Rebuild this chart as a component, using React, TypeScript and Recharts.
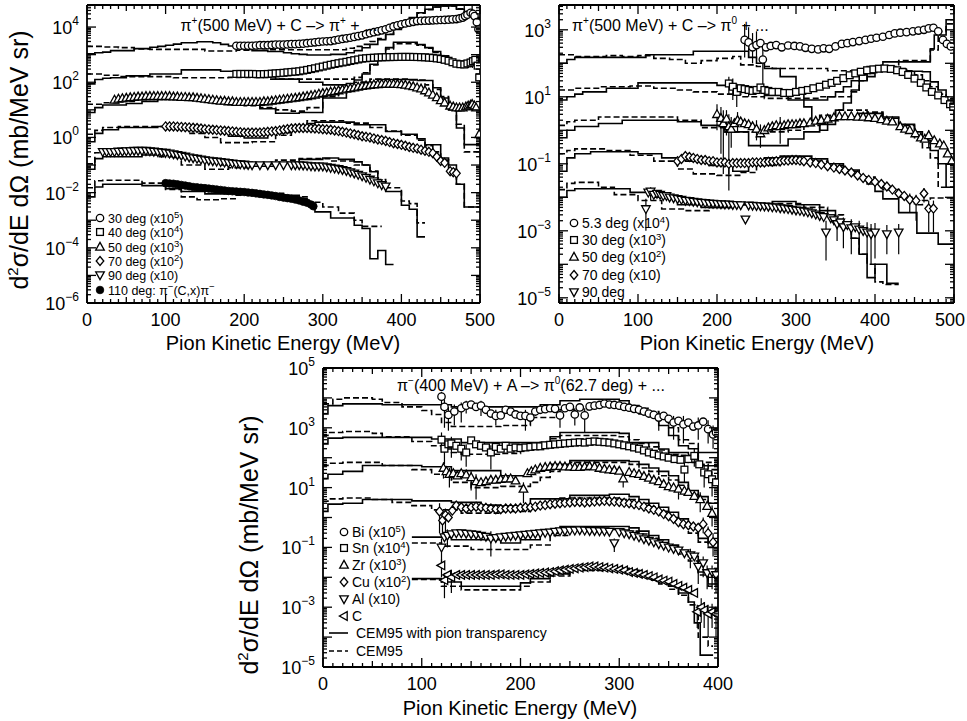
import React from 'react';
import { ComposedChart, Line, Scatter, XAxis, YAxis, ErrorBar } from 'recharts';

const FONT = '"Liberation Sans", Arial, Helvetica, sans-serif';

// ---------------- axes ----------------
const P12_X_MAJOR = [0, 100, 200, 300, 400, 500];
const P3_X_MAJOR = [0, 100, 200, 300, 400];
const P1_Y_EXP_LABELS = [4, 2, 0, -2, -4, -6];
const P2_Y_EXP_LABELS = [3, 1, -1, -3, -5];
const P3_Y_EXP_LABELS = [5, 3, 1, -1, -3, -5];
const P1_Y_DOMAIN = [1e-6, 6.3e4];
const P2_Y_DOMAIN = [7e-6, 5.5e3];
const P3_Y_DOMAIN = [1e-5, 1e5];

// ---------------- panel 1 : pi+(500 MeV) + C -> pi+ ----------------
const p1_30_sol = [[0,1070],[10,1170],[20,1230],[30,1400],[60,1650],[80,1850],[90,2000],[100,2200],[110,2400],[120,2700],[140,2950],[160,2700],[170,2350],[180,2050],[190,1770],[200,1540],[210,1400],[230,1300],[250,1170],[260,1080],[270,1020],[280,970],[310,1020],[330,1170],[340,1400],[350,1770],[360,2350],[370,3500],[380,5400],[390,8200],[400,14000],[410,22000],[420,33000],[430,44000],[440,53000],[450,58000],[470,44000],[480,29000],[490,22000],[500,22000]];
const p1_30_dash = [[0,2000],[20,1900],[40,1800],[60,1600],[80,1550],[150,1350],[190,1450],[230,1500],[330,1700],[340,2000],[350,2350],[360,3000],[370,3800],[380,5500],[390,8500],[400,13000],[410,20000],[420,32000],[430,43000],[440,53000],[450,58000],[470,46000],[480,30000],[490,20000],[500,20000]];
const p1_30_pts = [[190,2100],[195,2100],[200,2100],[205,2100],[210,2100],[215,2150],[220,2200],[225,2200],[230,2200],[235,2250],[240,2300],[245,2300],[250,2300],[255,2350],[260,2400],[265,2400],[270,2450],[275,2500],[280,2600],[285,2700],[290,2800],[295,2900],[300,3000],[305,3050],[310,3100],[315,3300],[320,3500],[325,3700],[330,3900],[335,4100],[340,4400],[345,4700],[350,5000],[355,5500],[360,6000],[365,6500],[370,7000],[375,7600],[380,8300],[385,9400],[390,10500],[395,11500],[400,12600],[405,13500],[410,14500],[415,15500],[420,16500],[425,16800],[430,17000],[435,17200],[440,17500],[445,17800],[450,18000],[455,18200],[460,18500],[465,19000],[470,19500],[474,20500],[478,22000],[481,25000],[484,28000],[488,33000],[491,30000],[493,25000],[496,15000],[498,8300]];

const p1_40_sol = [[0,87],[10,125],[20,140],[30,145],[50,170],[80,200],[120,280],[170,250],[200,180],[240,130],[270,100],[300,80],[330,90],[340,120],[350,200],[360,450],[370,1000],[380,1800],[390,2800],[420,2300],[430,1800],[440,1300],[450,900],[460,600],[470,420],[480,380],[490,700],[500,700]];
const p1_40_dash = [[0,200],[20,180],[40,160],[110,145],[180,150],[230,130],[340,150],[350,220],[360,420],[370,900],[380,1600],[390,2500],[420,2200],[430,1700],[440,1200],[450,850],[460,550],[470,400],[480,350],[490,600],[500,600]];
const p1_40_pts = [[190,200],[195,200],[200,200],[205,200],[210,200],[215,198],[220,195],[225,198],[230,200],[235,205],[240,210],[245,215],[250,220],[255,228],[260,235],[265,242],[270,250],[275,265],[280,280],[285,300],[290,320],[295,345],[300,370],[305,400],[310,430],[315,460],[320,490],[325,520],[330,550],[335,590],[340,630],[345,670],[350,720],[355,740],[360,760],[365,775],[370,790],[375,800],[380,810],[385,815],[390,820],[395,825],[400,830],[405,830],[410,830],[415,825],[420,820],[425,810],[430,800],[435,780],[440,760],[445,730],[450,700],[455,650],[460,600],[465,530],[470,470],[475,450],[480,440],[484,480],[488,520],[491,580],[494,650],[497,400],[499,150]];

const p1_50_sol = [[0,8],[10,12],[20,15],[50,17],[70,20],[90,25],[130,27],[160,24],[180,20],[200,15],[220,11],[240,7.5],[270,8],[300,27],[330,63],[350,100],[370,125],[420,115],[440,63],[450,27],[460,10],[470,2.2],[480,0.55],[500,0.55]];
const p1_50_dash = [[0,16],[20,18],[40,20],[60,25],[80,27],[100,30],[120,27],[140,25],[160,20],[180,16],[200,14],[220,12],[240,10],[260,9],[280,12],[300,30],[320,60],[340,100],[360,130],[410,120],[430,80],[440,55],[450,30],[460,12],[470,3],[480,0.3],[500,0.3]];
const p1_50_pts = [[35,23],[40,25],[45,26],[50,27],[55,28],[60,29],[65,30],[70,30],[75,31],[80,31],[85,31],[90,31],[95,31],[100,31],[105,31],[110,30],[115,30],[120,29],[125,29],[130,28],[135,28],[140,27],[145,26],[150,25],[155,24],[160,23],[165,22],[170,21],[175,21],[180,20],[185,20],[190,19],[195,19],[200,19],[205,19],[210,19],[215,19],[220,19],[225,20],[230,20],[235,21],[240,22],[245,23],[250,24],[255,25],[260,26],[265,27],[270,28],[275,30],[280,31],[285,33],[290,35],[295,38],[300,40],[305,42],[310,45],[315,47],[320,50],[325,54],[330,57],[335,60],[340,64],[345,68],[350,72],[355,75],[360,78],[365,82],[370,84],[375,86],[380,86],[385,86],[390,86],[395,85],[400,83],[405,80],[410,75],[415,70],[420,64],[425,58],[430,50],[435,42],[440,35],[445,28],[450,22],[455,18],[462,14],[466,13],[470,12],[474,12],[478,12],[482,13],[485,14],[488,15],[490,16],[493,14],[495,12],[499,1.3]];

const p1_70_sol = [[0,0.7],[10,1.4],[20,1.9],[40,2.3],[90,2.5],[130,2.2],[160,1.6],[180,1.1],[200,0.95],[230,1.5],[260,2.4],[280,3.2],[290,3.6],[340,2.9],[380,1.65],[400,1.3],[420,0.9],[430,0.54],[450,0.18],[460,0.1],[470,0.02],[480,0.003],[500,0.003]];
const p1_70_dash = [[0,1.3],[10,1.8],[20,2.3],[40,2.5],[100,2.1],[130,1.4],[150,1.0],[170,0.65],[210,0.7],[240,1.2],[260,2.4],[280,4.0],[330,3.3],[360,2.3],[380,1.7],[400,1.2],[420,0.8],[430,0.5],[440,0.3],[450,0.15],[460,0.07],[470,0.02],[480,0.003],[500,0.003]];
const p1_70_pts = [[100,2.5],[105,2.5],[110,2.5],[115,2.45],[120,2.4],[125,2.35],[130,2.3],[135,2.25],[140,2.2],[145,2.1],[150,2.0],[155,1.95],[160,1.9],[165,1.85],[170,1.8],[175,1.75],[180,1.7],[185,1.65],[190,1.6],[195,1.55],[200,1.5],[205,1.5],[210,1.5],[215,1.5],[220,1.5],[225,1.55],[230,1.6],[235,1.65],[240,1.7],[245,1.8],[250,1.9],[255,2.0],[260,2.1],[265,2.15],[270,2.2],[275,2.2],[280,2.2],[285,2.15],[290,2.1],[295,2.05],[300,2.0],[305,1.95],[310,1.9],[315,1.8],[320,1.7],[325,1.6],[330,1.5],[335,1.4],[340,1.3],[345,1.2],[350,1.1],[355,1.05],[360,1.0],[365,0.92],[370,0.85],[375,0.8],[380,0.75],[385,0.68],[390,0.62],[395,0.58],[400,0.54],[405,0.5],[410,0.45],[415,0.42],[420,0.4],[425,0.36],[430,0.33],[435,0.3],[440,0.27],[445,0.2],[450,0.14],[455,0.12],[462,0.06],[466,0.055],[470,0.05]];

const p1_90_sol = [[0,0.07],[10,0.17],[20,0.2],[70,0.23],[110,0.19],[140,0.14],[170,0.1],[200,0.09],[240,0.12],[270,0.16],[300,0.18],[320,0.16],[340,0.13],[350,0.1],[360,0.057],[370,0.019],[380,0.011],[400,0.0035],[410,0.0025],[420,0.00025],[430,0.00025]];
const p1_90_dash = [[0,0.11],[10,0.28],[20,0.32],[90,0.2],[120,0.1],[150,0.07],[180,0.08],[210,0.11],[240,0.15],[270,0.17],[310,0.14],[340,0.1],[360,0.06],[370,0.03],[380,0.015],[400,0.005],[410,0.004],[420,0.0008],[430,0.0008]];
const p1_90_pts = [[20,0.3],[25,0.3],[30,0.3],[35,0.3],[40,0.31],[45,0.31],[50,0.32],[55,0.32],[60,0.33],[65,0.33],[70,0.33],[75,0.33],[80,0.32],[85,0.31],[90,0.3],[95,0.29],[100,0.28],[105,0.265],[110,0.25],[115,0.235],[120,0.22],[125,0.205],[130,0.19],[135,0.18],[140,0.17],[145,0.16],[150,0.15],[155,0.145],[160,0.14],[165,0.135],[170,0.13],[175,0.125],[180,0.12],[185,0.115],[190,0.11],[195,0.108],[200,0.105],[205,0.102],[210,0.1],[220,0.1],[230,0.1],[240,0.1],[250,0.1],[260,0.1],[265,0.1],[270,0.1],[275,0.098],[280,0.095],[285,0.092],[290,0.09],[295,0.09],[300,0.09],[305,0.085],[310,0.08],[315,0.076],[320,0.072],[325,0.067],[330,0.062],[335,0.056],[340,0.05],[345,0.045],[350,0.04],[355,0.035],[360,0.03],[365,0.026],[370,0.022],[375,0.019],[380,0.017]];

const p1_110_sol = [[0,0.007],[10,0.016],[20,0.02],[70,0.018],[100,0.014],[120,0.011],[150,0.009],[180,0.0095],[230,0.008],[270,0.006],[280,0.0035],[290,0.002],[310,0.0012],[340,0.00066],[350,0.0005],[360,0.00004],[370,0.00008],[380,0.000025],[390,0.000025]];
const p1_110_dash = [[0,0.015],[10,0.027],[20,0.028],[70,0.022],[100,0.013],[120,0.007],[140,0.0055],[170,0.006],[190,0.008],[220,0.0095],[250,0.007],[280,0.0045],[300,0.003],[320,0.0018],[340,0.001],[350,0.0006],[375,0.0006]];
const p1_110_pts = [[100,0.022],[105,0.0215],[110,0.021],[115,0.02],[120,0.019],[125,0.018],[130,0.017],[135,0.016],[140,0.0155],[145,0.015],[150,0.0145],[155,0.014],[160,0.0135],[165,0.013],[170,0.0125],[175,0.012],[180,0.0115],[185,0.0112],[190,0.011],[195,0.0107],[200,0.0105],[205,0.0101],[210,0.0098],[215,0.0094],[220,0.009],[225,0.0086],[230,0.0083],[235,0.0079],[240,0.0075],[245,0.007],[250,0.0066],[255,0.0063],[260,0.006],[265,0.0056],[270,0.0052],[275,0.0047],[280,0.0043],[285,0.0037],[288,0.0032]];

// ---------------- panel 2 : pi+(500 MeV) + C -> pi0 ----------------
const p2_5_sol = [[0,100],[10,130],[20,150],[110,180],[170,230],[240,150],[250,100],[260,70],[280,40],[300,15],[310,5],[320,2],[330,1.0],[340,2.5],[350,4],[360,6.5],[370,16],[380,30],[390,40],[400,70],[410,110],[445,110],[470,270],[475,700],[490,2000],[500,2000]];
const p2_5_dash = [[0,180],[20,160],[60,170],[80,160],[100,170],[120,140],[140,130],[160,100],[180,120],[200,140],[220,160],[230,90],[250,80],[270,70],[340,60],[390,80],[430,120],[470,250],[480,900],[490,1500],[500,1500]];
const p2_5_pts = [[235,500,150,1500],[240,420,150,1200],[245,300,100,800],[250,350,130,900],[255,400],[258,130,20,300],[262,300],[268,330],[275,350],[282,300],[290,340],[298,330],[305,320],[312,290],[320,270],[328,260],[335,280],[342,270],[350,320],[358,380],[365,400],[372,430],[380,460],[388,500],[395,540],[402,580],[410,620],[418,700],[425,780],[432,820],[440,850],[448,900],[455,950],[462,1000],[468,1100],[474,1150],[480,900],[486,500],[491,380],[496,320]];

const p2_30_sol = [[0,8],[10,10],[20,12],[30,14],[60,18],[100,26],[200,22],[230,16],[260,11],[290,8],[340,10],[350,14],[360,20],[370,30],[380,45],[390,60],[420,65],[440,58],[460,56],[470,28],[480,16],[490,8],[500,8]];
const p2_30_dash = [[0,16],[20,18],[50,20],[90,21],[120,18],[150,16],[170,14],[200,12],[230,10],[260,9],[330,10],[370,14],[380,30],[390,50],[400,70],[440,60],[450,45],[460,30],[470,20],[480,12],[490,9],[500,9]];
const p2_30_pts = [[215,25,12,40],[220,20,8,35],[225,14,5,25],[230,18],[235,17],[240,16,10,22],[245,15],[250,16],[255,19],[260,16],[265,15],[270,14],[278,14],[285,13],[292,13],[300,14],[308,15],[315,16],[322,18],[330,20],[338,23],[345,26],[352,30],[360,36],[368,44],[375,50],[382,56],[390,62],[398,66],[405,69],[412,70],[420,68],[428,62],[435,55],[442,45],[450,35],[458,26],[465,19],[472,14],[480,11],[488,8],[495,6],[499,5]];

const p2_50_sol = [[0,0.6],[10,1.0],[20,1.3],[50,1.6],[80,2.0],[150,1.8],[180,1.4],[210,0.9],[240,0.35],[290,0.55],[310,0.9],[330,1.5],[350,2.5],[380,3.2],[410,2.5],[430,1.5],[450,0.9],[460,0.5],[470,0.25],[480,0.1],[490,0.02],[500,0.02]];
const p2_50_dash = [[0,1.4],[10,1.8],[20,2.0],[50,2.5],[150,2.0],[180,1.2],[210,0.9],[290,1.0],[310,1.4],[330,2.8],[350,4.0],[390,3.5],[410,2.3],[430,1.4],[450,0.6],[460,0.3],[470,0.15],[480,0.02],[500,0.02]];
const p2_50_pts = [[200,3.0,1.0,6],[205,2.3,0.2,5],[208,1.6,0.05,4],[212,2.2,0.7,4],[215,1.3,0.05,3],[218,1.1,0.3,2.5],[222,1.6],[226,2.0,0.9,3.5],[230,1.8],[235,1.6],[240,1.5],[245,1.3],[250,1.1,0.5,2],[255,0.8,0.3,1.5],[260,1.0],[265,1.2],[270,1.3],[275,1.4],[280,1.3,0.4,2.5],[285,1.4],[290,1.5],[295,1.5],[300,1.5],[305,1.6],[310,1.6],[318,1.7],[325,1.9],[332,2.0],[340,2.2],[348,2.4],[355,2.6],[362,2.6],[370,2.6],[378,2.5],[385,2.5],[392,2.4],[400,2.3],[408,2.1],[415,1.9],[422,1.8],[432,1.3],[438,1.1],[444,1.0],[451,0.8],[458,0.6],[463,0.55],[468,0.7,0.3,1.0],[475,0.5],[482,0.4],[487,0.35],[492,0.2],[497,0.12]];

const p2_70_sol = [[0,0.06],[10,0.15],[20,0.2],[40,0.23],[100,0.2],[130,0.15],[160,0.12],[190,0.09],[220,0.06],[240,0.1],[260,0.15],[280,0.17],[320,0.14],[340,0.1],[360,0.065],[380,0.04],[390,0.025],[400,0.015],[410,0.009],[430,0.0035],[453,0.00085],[480,0.0004],[500,0.0004]];
const p2_70_dash = [[0,0.2],[10,0.25],[20,0.28],[60,0.25],[90,0.18],[120,0.12],[150,0.07],[170,0.05],[200,0.045],[230,0.055],[250,0.09],[280,0.13],[310,0.12],[340,0.09],[360,0.06],[380,0.04],[400,0.025],[410,0.017],[430,0.01],[450,0.006],[460,0.008],[470,0.0095],[500,0.0095]];
const p2_70_pts = [[150,0.12,0.08,0.16],[155,0.14],[160,0.17],[165,0.16],[170,0.15],[175,0.14],[180,0.13],[185,0.13],[190,0.12],[195,0.12],[200,0.11],[205,0.11],[210,0.11],[215,0.1,0.016,0.14],[220,0.105],[225,0.105],[230,0.105],[235,0.105],[240,0.105],[245,0.11],[250,0.11],[255,0.11],[260,0.11],[265,0.115],[270,0.115],[275,0.12],[280,0.12],[285,0.125],[290,0.125],[295,0.13],[300,0.13],[305,0.125],[310,0.12],[318,0.11],[325,0.105],[332,0.095],[340,0.085],[348,0.077],[355,0.07],[362,0.063],[370,0.055],[378,0.045],[385,0.038],[392,0.033],[400,0.029],[408,0.025],[415,0.021],[422,0.017],[430,0.013],[437,0.011],[444,0.0085,0.0035,0.013],[452,0.008,0.002,0.012],[462,0.013,0.007,0.019],[468,0.0046,0.0009,0.008],[474,0.0046,0.0009,0.008]];

const p2_90_sol = [[0,0.01],[10,0.016],[20,0.018],[90,0.014],[120,0.01],[150,0.006],[180,0.005],[220,0.006],[270,0.0075],[300,0.006],[330,0.004],[350,0.0022],[360,0.0012],[370,0.0006],[380,0.0002],[390,0.00004],[400,0.0001],[415,0.000027],[430,0.000027]];
const p2_90_dash = [[0,0.017],[10,0.026],[20,0.028],[50,0.02],[70,0.012],[100,0.008],[130,0.0045],[160,0.004],[190,0.005],[220,0.006],[260,0.0065],[310,0.005],[340,0.003],[360,0.0015],[370,0.0006],[380,0.0002],[390,0.0001],[400,0.00003],[410,0.000025],[430,0.000025]];
const p2_90_pts = [[110,0.0045,0.001,0.009],[113,0.014],[116,0.015,0.008,0.02],[120,0.012],[124,0.013],[128,0.012],[132,0.011],[136,0.011],[140,0.01],[145,0.0095],[150,0.009],[155,0.0085],[160,0.008],[165,0.0078],[170,0.0075],[175,0.0072],[180,0.007],[185,0.0068],[190,0.0066],[195,0.0065],[200,0.0064],[205,0.0063],[210,0.0062],[215,0.0062],[220,0.006],[225,0.006],[230,0.0059],[236,0.0022],[240,0.0058],[245,0.0057],[250,0.0056],[255,0.0055],[260,0.0054],[265,0.0053],[270,0.0051],[275,0.005],[280,0.0048],[285,0.0047],[290,0.0045],[295,0.0043],[300,0.0041],[305,0.004],[310,0.0038],[315,0.0036],[320,0.0034],[325,0.0031],[330,0.0028],[335,0.0026],[338,0.0009,0.00013,0.002],[344,0.0024],[348,0.0021],[352,0.0016,0.0005,0.003],[356,0.0018],[360,0.0013,0.0003,0.0025],[365,0.0015],[370,0.0012,0.0002,0.0022],[375,0.0013],[380,0.0011,0.0002,0.002],[385,0.001],[390,0.0009,0.00015,0.0018],[395,0.0008,0.0001,0.0016],[400,0.0009,0.00015,0.0017],[415,0.0008,0.0002,0.0015],[430,0.0009,0.0002,0.0016]];

// ---------------- panel 3 : pi-(400 MeV) + A -> pi0(62.7 deg) ----------------
const p3_bi_sol = [[0,2900],[5,5500],[20,6300],[60,5900],[130,5000],[220,5900],[240,8000],[260,9000],[300,8000],[310,5500],[320,2900],[340,1200],[350,550],[360,250],[370,200],[380,150],[400,150]];
const p3_bi_dash = [[0,6300],[10,9000],[20,10000],[50,9000],[60,7000],[80,5000],[100,3800],[110,2800],[120,1500],[130,1100],[180,1200],[210,2200],[240,4000],[270,5500],[310,4500],[330,3500],[340,2200],[350,1000],[360,400],[370,300],[380,70],[400,60]];
const p3_bi_pts = [[120,11000,4000,16000],[123,5000,1000,9000],[127,2700,800,5000],[133,3500,1200,6000],[140,4500,1500,7000],[145,5500,3000,8000],[150,6000],[155,5000],[160,5500,2500,8000],[165,4000],[170,3000],[175,2500,1200,4000],[180,2600],[185,4000],[190,3500],[195,2800],[200,2500],[205,2500,800,4000],[210,2200],[215,3500],[220,4000],[225,4200],[230,4500],[235,4300],[240,2600,1000,4000],[245,4500],[250,5000],[255,2800,1200,4500],[260,4800],[265,2600,700,4500],[270,5200],[275,5500],[280,5800],[285,6500],[290,6000],[295,5800],[300,5500],[305,5000],[310,4700],[315,4300],[320,4000],[325,3500],[330,3000],[335,2700],[340,2200,800,3500],[345,2500],[350,2000],[355,1500,400,2500],[360,1700],[365,1300,300,2500],[370,1500],[375,1100],[380,1200,400,2200],[385,1600],[390,900,300,1800],[395,600,200,1200],[398,700]];

const p3_sn_sol = [[0,290],[5,450],[20,480],[110,420],[140,320],[230,500],[240,700],[300,650],[310,320],[340,195],[350,150],[370,120],[380,54],[400,54]];
const p3_sn_dash = [[0,550],[5,700],[20,750],[50,650],[60,500],[90,350],[110,250],[120,195],[130,150],[140,130],[180,140],[200,190],[210,250],[220,330],[230,430],[240,550],[300,500],[310,400],[320,300],[330,230],[340,180],[350,130],[360,120],[370,70],[380,60],[390,40],[400,40]];
const p3_sn_pts = [[120,400,150,700],[123,200,60,350],[127,280],[130,300,100,500],[135,250],[140,200,80,320],[145,150,50,280],[150,380],[155,280],[160,250],[165,220],[170,150,40,260],[175,230],[180,200],[185,250],[190,200],[195,220],[200,210],[205,220],[210,230],[215,240],[220,240],[225,260],[230,270],[235,280],[240,290],[245,300],[250,310],[255,320],[260,330],[265,320],[270,340],[275,350],[280,340],[285,330],[290,320],[295,300],[300,280],[305,260],[310,240],[315,220],[320,200],[325,175],[330,150],[335,135],[340,120],[345,110],[350,100],[356,90],[362,85],[366,40,15,70],[370,90],[376,115,50,200],[381,60],[386,32,10,60],[390,28],[394,19,5,35],[398,15]];

const p3_zr_sol = [[0,20],[5,28],[20,35],[40,55],[100,50],[130,37],[180,25],[210,38],[230,60],[250,80],[300,80],[310,75],[320,60],[330,45],[340,35],[350,25],[360,15],[370,8],[380,5],[390,3],[400,3]];
const p3_zr_dash = [[0,55],[5,65],[20,70],[60,55],[90,40],[110,28],[130,15],[150,10],[180,11],[210,15],[220,22],[230,35],[240,50],[250,70],[300,70],[310,60],[320,45],[330,35],[340,25],[350,18],[360,12],[370,6],[380,4],[390,3],[400,3]];
const p3_zr_pts = [[122,45,20,70],[125,35],[128,28,10,45],[132,30],[136,25],[140,30],[145,27],[150,22,8,35],[155,16,4,28],[160,15],[165,16],[170,18],[175,18],[180,19],[185,20],[190,20],[195,17],[203,9,3,15],[207,30],[211,35],[215,40],[220,45],[225,48],[230,50],[235,52],[240,52],[245,50],[250,50],[255,48],[260,48],[265,50],[270,52],[275,50],[280,45],[285,42],[290,40],[295,38],[300,36],[304,20,10,30],[310,33],[315,30],[320,28],[325,24],[330,21],[335,18],[340,16],[345,13],[350,11],[355,10],[360,9,4,14],[366,7.8],[370,7],[376,5.2],[382,4,1.5,7],[389,2.4],[394,1.4,0.5,2.5]];

const p3_cu_sol = [[0,1.6],[5,2.8],[20,3.0],[40,4.0],[90,3.6],[130,3.2],[160,2.6],[180,2.4],[210,4.2],[250,5.5],[290,6],[310,5],[320,4],[330,3],[340,2.2],[350,1.5],[360,0.9],[370,0.5],[380,0.2],[390,0.15],[400,0.15]];
const p3_cu_dash = [[0,3.5],[5,4.2],[20,4.5],[50,4],[70,3.2],[90,2.5],[110,1.8],[140,1.4],[180,1.6],[210,2.5],[240,4.5],[300,4],[320,3],[330,2.3],[340,1.6],[350,1.0],[360,0.6],[370,0.3],[380,0.15],[390,0.1],[400,0.1]];
const p3_cu_pts = [[118,1.6,0.3,3],[121,0.8,0.2,1.5],[124,1.2,0.3,2],[127,1.0],[131,1.7],[135,2.5],[140,2.2],[145,2.0],[150,2.2],[155,2.3],[160,2.2],[165,2.1],[170,2.0],[175,1.9],[180,1.9],[185,2.0],[190,2.0],[195,2.0],[200,2.1],[205,2.2],[210,2.2],[215,2.3],[220,2.5],[225,2.6],[230,2.8],[235,2.9],[240,3.0],[245,3.1],[250,3.2],[255,3.3],[260,3.3],[265,3.2],[270,3.3],[275,3.4],[280,3.5],[285,3.6],[290,3.5],[295,3.4],[300,3.3],[305,3.1],[310,3.0],[315,2.8],[320,2.6],[325,2.3],[330,2.0],[335,1.8],[340,1.6],[345,1.3],[350,1.1],[355,0.9],[360,0.7],[365,0.6],[370,0.55],[375,0.5],[380,0.45],[385,0.6,0.3,1.0],[390,0.3,0.1,0.5],[395,0.15,0.05,0.3]];

const p3_al_sol = [[90,0.22],[130,0.18],[180,0.14],[200,0.18],[220,0.3],[240,0.5],[310,0.45],[320,0.35],[330,0.25],[340,0.18],[350,0.12],[360,0.08],[370,0.05],[380,0.015],[390,0.006],[400,0.006]];
const p3_al_dash = [[90,0.14],[120,0.11],[150,0.085],[210,0.12],[230,0.25],[250,0.4],[310,0.35],[320,0.28],[330,0.2],[340,0.14],[350,0.1],[360,0.06],[370,0.035],[380,0.012],[390,0.005],[400,0.005]];
const p3_al_pts = [[120,0.1,0.02,0.2],[123,0.22],[126,0.25,0.1,0.4],[130,0.28],[135,0.3],[140,0.3],[145,0.29],[150,0.28],[155,0.27],[160,0.25],[165,0.23],[170,0.2,0.05,0.35],[175,0.21],[180,0.22],[185,0.23],[190,0.24],[195,0.25],[200,0.26],[205,0.27],[210,0.28],[215,0.29],[220,0.3],[225,0.31],[230,0.32],[235,0.34],[240,0.35],[245,0.36],[250,0.37],[255,0.37],[260,0.38],[265,0.37],[270,0.36],[275,0.36],[280,0.35],[285,0.35],[290,0.34],[295,0.14,0.07,0.2],[300,0.33],[305,0.3],[310,0.28],[315,0.25],[320,0.22],[325,0.19],[330,0.17],[335,0.15],[340,0.13],[345,0.115],[350,0.1],[355,0.09],[360,0.08],[366,0.065],[372,0.055,0.02,0.09],[376,0.05],[380,0.023,0.006,0.04],[385,0.03,0.01,0.05],[389,0.014,0.004,0.025],[394,0.015,0.004,0.025],[398,0.012,0.003,0.02]];

const p3_c_sol = [[90,0.009],[120,0.007],[140,0.005],[200,0.0065],[210,0.009],[230,0.013],[250,0.02],[310,0.017],[320,0.013],[330,0.01],[340,0.007],[350,0.005],[360,0.003],[370,0.0015],[376,0.0003],[382,0.000025],[395,0.000025]];
const p3_c_dash = [[90,0.0085],[120,0.005],[140,0.0038],[200,0.005],[210,0.007],[230,0.011],[250,0.017],[310,0.014],[320,0.011],[330,0.008],[340,0.006],[350,0.004],[360,0.0025],[370,0.0012],[380,0.0001],[390,0.00005],[395,0.00005]];
const p3_c_pts = [[120,0.025,0.01,0.04],[123,0.008,0.002,0.014],[126,0.012],[130,0.01,0.003,0.018],[135,0.012],[140,0.012],[145,0.012],[150,0.012],[155,0.012],[160,0.012],[165,0.012],[170,0.012],[175,0.0125],[180,0.0125],[185,0.012],[190,0.012],[195,0.012],[200,0.012],[205,0.0125],[210,0.013],[215,0.0135],[220,0.014],[225,0.0145],[230,0.015],[235,0.016],[240,0.017],[245,0.018],[250,0.019],[255,0.02],[260,0.021],[265,0.022],[270,0.023],[275,0.023],[280,0.022],[285,0.021],[290,0.02],[295,0.019],[300,0.018],[305,0.017],[310,0.015],[315,0.014],[320,0.013],[325,0.012],[330,0.011],[335,0.01],[340,0.0085],[345,0.0078],[350,0.0072],[355,0.006],[360,0.0052],[365,0.0045],[370,0.0038],[376,0.003],[379,0.0007,0.0002,0.0012],[383,0.001,0.0003,0.002],[386,0.0008,0.0002,0.0015],[390,0.0006,0.0001,0.0012],[394,0.0007,0.0002,0.0013],[398,0.0006,0.0001,0.001]];

// ---------------- helpers ----------------
type Kind = 'circle' | 'square' | 'tri' | 'diamond' | 'itri' | 'dot' | 'ltri';

const toXY = (a: number[][]) => a.map(([x, y]) => ({ x, y }));
const toPts = (a: number[][]) =>
  a.map(([x, y, lo, hi]) => ({ x, y, err: lo != null && hi != null ? [y - lo, hi - y] : 0 }));

const xTicks = (max: number) => {
  const t: number[] = [];
  for (let v = 0; v <= max; v += 10) t.push(v);
  return t;
};
const logTicks = (dom: number[]) => {
  const [lo, hi] = dom;
  const t: number[] = [];
  for (let e = Math.floor(Math.log10(lo)); e <= Math.ceil(Math.log10(hi)); e++) {
    for (let m = 1; m <= 9; m++) {
      const v = Number((m * Math.pow(10, e)).toPrecision(6));
      if (v >= lo * 0.9999 && v <= hi * 1.0001) t.push(v);
    }
  }
  return t;
};
const isDecade = (v: number) => Math.abs(Math.log10(v) - Math.round(Math.log10(v))) < 1e-6;

const Marker = ({ kind, cx, cy }: { kind: Kind; cx: number; cy: number }) => {
  if (cx == null || cy == null || isNaN(cx) || isNaN(cy)) return <g />;
  const s = { stroke: '#000', strokeWidth: 1.3, fill: '#fff' };
  switch (kind) {
    case 'circle':
      return <circle cx={cx} cy={cy} r={3.7} {...s} />;
    case 'dot':
      return <circle cx={cx} cy={cy} r={3.8} fill="#000" stroke="#000" strokeWidth={0.8} />;
    case 'square':
      return <rect x={cx - 3.4} y={cy - 3.4} width={6.8} height={6.8} {...s} />;
    case 'tri':
      return <polygon points={`${cx},${cy - 4.6} ${cx + 4.3},${cy + 3.2} ${cx - 4.3},${cy + 3.2}`} {...s} />;
    case 'itri':
      return <polygon points={`${cx},${cy + 4.6} ${cx + 4.3},${cy - 3.2} ${cx - 4.3},${cy - 3.2}`} {...s} />;
    case 'diamond':
      return <polygon points={`${cx},${cy - 4.5} ${cx + 3.8},${cy} ${cx},${cy + 4.5} ${cx - 3.8},${cy}`} {...s} />;
    case 'ltri':
      return <polygon points={`${cx - 4.6},${cy} ${cx + 3.2},${cy - 4.3} ${cx + 3.2},${cy + 4.3}`} {...s} />;
  }
  return <g />;
};

const makeXTick = (majors: number[], top: boolean, lastDx: number) => (p: any) => {
  const { x, y, payload } = p;
  const v = payload.value;
  const major = majors.includes(v);
  const len = major ? 9 : v % 50 === 0 ? 6 : 4;
  const dx = v === majors[majors.length - 1] ? lastDx : 0;
  return (
    <g>
      <line x1={x} x2={x} y1={y} y2={top ? y + len : y - len} stroke="#000" strokeWidth={1.3} />
      {!top && major && (
        <text x={x + dx} y={y + 23} textAnchor="middle" fontSize={18} fontFamily={FONT} fill="#000">
          {v}
        </text>
      )}
    </g>
  );
};

const makeYTick = (labels: number[], right: boolean) => (p: any) => {
  const { x, y, payload } = p;
  const v = payload.value;
  const dec = isDecade(v);
  const e = Math.round(Math.log10(v));
  const len = dec ? 9 : 4;
  return (
    <g>
      <line x1={x} x2={right ? x - len : x + len} y1={y} y2={y} stroke="#000" strokeWidth={1.3} />
      {!right && dec && labels.includes(e) && (
        <text x={x - 8} y={y + 7} textAnchor="end" fontSize={18} fontFamily={FONT} fill="#000">
          10
          <tspan dy={-9} fontSize={12}>
            {e < 0 ? '\u2212' + -e : String(e)}
          </tspan>
        </text>
      )}
    </g>
  );
};

const AX = { stroke: '#000', strokeWidth: 1.8 };

type LineSpec = { data: number[][]; dashed: boolean };
type MarkSpec = { data: number[][]; kind: Kind };

function PlotPanel(props: {
  width: number;
  height: number;
  margin: { top: number; right: number; bottom: number; left: number };
  yW: number;
  xH: number;
  xMax: number;
  xMajors: number[];
  yDomain: number[];
  yLabels: number[];
  lines: LineSpec[];
  marks: MarkSpec[];
  lastDx?: number;
}) {
  const { width, height, margin, yW, xH, xMax, xMajors, yDomain, yLabels, lines, marks } = props;
  const lastDx = props.lastDx || 0;
  const xt = xTicks(xMax);
  const yt = logTicks(yDomain);
  return (
    <ComposedChart width={width} height={height} margin={margin}>
      <XAxis xAxisId="b" orientation="bottom" type="number" dataKey="x" domain={[0, xMax]} ticks={xt} interval={0}
        tickSize={0} tickMargin={0} tickLine={false} tick={makeXTick(xMajors, false, lastDx)} height={xH} axisLine={AX} allowDataOverflow />
      <XAxis xAxisId="t" orientation="top" type="number" dataKey="x" domain={[0, xMax]} ticks={xt} interval={0}
        tickSize={0} tickMargin={0} tickLine={false} tick={makeXTick(xMajors, true, 0)} height={1} axisLine={AX} allowDataOverflow />
      <YAxis yAxisId="l" orientation="left" type="number" scale="log" domain={yDomain} ticks={yt} interval={0}
        tickSize={0} tickMargin={0} tickLine={false} tick={makeYTick(yLabels, false)} width={yW} axisLine={AX} allowDataOverflow />
      <YAxis yAxisId="r" orientation="right" type="number" scale="log" domain={yDomain} ticks={yt} interval={0}
        tickSize={0} tickMargin={0} tickLine={false} tick={makeYTick(yLabels, true)} width={1} axisLine={AX} allowDataOverflow />
      {lines.map((l, i) => (
        <Line key={'l' + i} xAxisId="b" yAxisId="l" data={toXY(l.data)} dataKey="y" type="stepAfter" stroke="#000"
          strokeWidth={1.6} strokeDasharray={l.dashed ? '6 3' : undefined} dot={false} activeDot={false} isAnimationActive={false} />
      ))}
      {marks.map((m, i) => (
        <Scatter key={'m' + i} xAxisId="b" yAxisId="l" data={toPts(m.data)} dataKey="y" isAnimationActive={false}
          shape={(sp: any) => <Marker kind={m.kind} cx={sp.cx} cy={sp.cy} />}>
          <ErrorBar dataKey="err" direction="y" width={0} stroke="#000" strokeWidth={1.2} />
        </Scatter>
      ))}
    </ComposedChart>
  );
}

const Sup = ({ children }: { children: React.ReactNode }) => (
  <tspan dy={-5} fontSize={9.5}>{children}</tspan>
);

function LegendRow({ x, y, kind, size, children }: { x: number; y: number; kind: Kind; size?: number; children: React.ReactNode }) {
  return (
    <g>
      <Marker kind={kind} cx={x} cy={y} />
      <text x={x + 8} y={y + 5} fontSize={size || 14} fontFamily={FONT} fill="#000">{children}</text>
    </g>
  );
}

export default function App() {
  return (
    <div style={{ position: 'absolute', left: 0, top: 0, width: 967, height: 721, background: '#fff', overflow: 'hidden' }}>
      <style>{`.recharts-surface{overflow:visible}`}</style>
      <div style={{ position: 'absolute', left: 0, top: 0 }}>
        <PlotPanel width={505} height={360} margin={{ top: 4, right: 24, bottom: 0, left: 0 }} yW={87} xH={57}
          xMax={500} xMajors={P12_X_MAJOR} yDomain={P1_Y_DOMAIN} yLabels={P1_Y_EXP_LABELS}
          lines={[
            { data: p1_30_sol, dashed: false }, { data: p1_30_dash, dashed: true },
            { data: p1_40_sol, dashed: false }, { data: p1_40_dash, dashed: true },
            { data: p1_50_sol, dashed: false }, { data: p1_50_dash, dashed: true },
            { data: p1_70_sol, dashed: false }, { data: p1_70_dash, dashed: true },
            { data: p1_90_sol, dashed: false }, { data: p1_90_dash, dashed: true },
            { data: p1_110_sol, dashed: false }, { data: p1_110_dash, dashed: true },
          ]}
          marks={[
            { data: p1_30_pts, kind: 'circle' }, { data: p1_40_pts, kind: 'square' },
            { data: p1_50_pts, kind: 'tri' }, { data: p1_70_pts, kind: 'diamond' },
            { data: p1_90_pts, kind: 'itri' }, { data: p1_110_pts, kind: 'dot' },
          ]} />
      </div>
      <div style={{ position: 'absolute', left: 490, top: 0 }}>
        <PlotPanel width={477} height={360} margin={{ top: 4, right: 12, bottom: 0, left: 0 }} yW={69} xH={57}
          xMax={500} xMajors={P12_X_MAJOR} yDomain={P2_Y_DOMAIN} yLabels={P2_Y_EXP_LABELS} lastDx={-4}
          lines={[
            { data: p2_5_sol, dashed: false }, { data: p2_5_dash, dashed: true },
            { data: p2_30_sol, dashed: false }, { data: p2_30_dash, dashed: true },
            { data: p2_50_sol, dashed: false }, { data: p2_50_dash, dashed: true },
            { data: p2_70_sol, dashed: false }, { data: p2_70_dash, dashed: true },
            { data: p2_90_sol, dashed: false }, { data: p2_90_dash, dashed: true },
          ]}
          marks={[
            { data: p2_5_pts, kind: 'circle' }, { data: p2_30_pts, kind: 'square' },
            { data: p2_50_pts, kind: 'tri' }, { data: p2_70_pts, kind: 'diamond' },
            { data: p2_90_pts, kind: 'itri' },
          ]} />
      </div>
      <div style={{ position: 'absolute', left: 230, top: 340 }}>
        <PlotPanel width={520} height={381} margin={{ top: 27, right: 31, bottom: 0, left: 0 }} yW={93} xH={54}
          xMax={400} xMajors={P3_X_MAJOR} yDomain={P3_Y_DOMAIN} yLabels={P3_Y_EXP_LABELS}
          lines={[
            { data: p3_bi_sol, dashed: false }, { data: p3_bi_dash, dashed: true },
            { data: p3_sn_sol, dashed: false }, { data: p3_sn_dash, dashed: true },
            { data: p3_zr_sol, dashed: false }, { data: p3_zr_dash, dashed: true },
            { data: p3_cu_sol, dashed: false }, { data: p3_cu_dash, dashed: true },
            { data: p3_al_sol, dashed: false }, { data: p3_al_dash, dashed: true },
            { data: p3_c_sol, dashed: false }, { data: p3_c_dash, dashed: true },
          ]}
          marks={[
            { data: p3_bi_pts, kind: 'circle' }, { data: p3_sn_pts, kind: 'square' },
            { data: p3_zr_pts, kind: 'tri' }, { data: p3_cu_pts, kind: 'diamond' },
            { data: p3_al_pts, kind: 'itri' }, { data: p3_c_pts, kind: 'ltri' },
          ]} />
      </div>

      <svg width={967} height={721} style={{ position: 'absolute', left: 0, top: 0, pointerEvents: 'none' }}>
        {/* axis titles */}
        <text x={283} y={350} textAnchor="middle" fontSize={20} fontFamily={FONT} fill="#000">Pion Kinetic Energy (MeV)</text>
        <text x={757} y={350} textAnchor="middle" fontSize={20} fontFamily={FONT} fill="#000">Pion Kinetic Energy (MeV)</text>
        <text x={520} y={715} textAnchor="middle" fontSize={20} fontFamily={FONT} fill="#000">Pion Kinetic Energy (MeV)</text>
        <text transform="translate(28,160) rotate(-90)" textAnchor="middle" fontSize={25} fontFamily={FONT} fill="#000">
          d<tspan dy={-10} fontSize={15}>2</tspan><tspan dy={10}>σ/dE dΩ (mb/MeV sr)</tspan>
        </text>
        <text transform="translate(258,545) rotate(-90)" textAnchor="middle" fontSize={25} fontFamily={FONT} fill="#000">
          d<tspan dy={-10} fontSize={15}>2</tspan><tspan dy={10}>σ/dE dΩ (mb/MeV sr)</tspan>
        </text>

        {/* panel titles */}
        <text x={279} y={31} textAnchor="middle" fontSize={16} fontFamily={FONT} fill="#000">
          π<tspan dy={-7} fontSize={10}>+</tspan><tspan dy={7}>(500 MeV) + C –&gt; π</tspan><tspan dy={-7} fontSize={10}>+</tspan><tspan dy={7}> + ...</tspan>
        </text>
        <text x={572} y={31} fontSize={16} fontFamily={FONT} fill="#000">
          π<tspan dy={-7} fontSize={10}>+</tspan><tspan dy={7}>(500 MeV) + C –&gt; π</tspan><tspan dy={-7} fontSize={10}>0</tspan><tspan dy={7}> + ...</tspan>
        </text>
        <text x={397} y={391} fontSize={16} fontFamily={FONT} fill="#000">
          π<tspan dy={-7} fontSize={10}>−</tspan><tspan dy={7}>(400 MeV) + A –&gt; π</tspan><tspan dy={-7} fontSize={10}>0</tspan><tspan dy={7}>(62.7 deg) + ...</tspan>
        </text>

        {/* legend panel 1 */}
        <LegendRow x={100} y={218} size={12.5} kind="circle">30 deg (x10<Sup>5</Sup><tspan dy={5}>)</tspan></LegendRow>
        <LegendRow x={100} y={232} size={12.5} kind="square">40 deg (x10<Sup>4</Sup><tspan dy={5}>)</tspan></LegendRow>
        <LegendRow x={100} y={247} size={12.5} kind="tri">50 deg (x10<Sup>3</Sup><tspan dy={5}>)</tspan></LegendRow>
        <LegendRow x={100} y={261} size={12.5} kind="diamond">70 deg (x10<Sup>2</Sup><tspan dy={5}>)</tspan></LegendRow>
        <LegendRow x={100} y={275} size={12.5} kind="itri">90 deg (x10)</LegendRow>
        <LegendRow x={100} y={290} size={12.5} kind="dot">110 deg: π<Sup>−</Sup><tspan dy={5}>(C,x)π</tspan><Sup>−</Sup></LegendRow>

        {/* legend panel 2 */}
        <LegendRow x={574} y={223} kind="circle">5.3 deg (x10<Sup>4</Sup><tspan dy={5}>)</tspan></LegendRow>
        <LegendRow x={574} y={240} kind="square">30 deg (x10<Sup>3</Sup><tspan dy={5}>)</tspan></LegendRow>
        <LegendRow x={574} y={257} kind="tri">50 deg (x10<Sup>2</Sup><tspan dy={5}>)</tspan></LegendRow>
        <LegendRow x={574} y={275} kind="diamond">70 deg (x10)</LegendRow>
        <LegendRow x={574} y={292} kind="itri">90 deg</LegendRow>

        {/* legend panel 3 */}
        <LegendRow x={344} y={532} kind="circle">Bi (x10<Sup>5</Sup><tspan dy={5}>)</tspan></LegendRow>
        <LegendRow x={344} y={548} kind="square">Sn (x10<Sup>4</Sup><tspan dy={5}>)</tspan></LegendRow>
        <LegendRow x={344} y={565} kind="tri">Zr (x10<Sup>3</Sup><tspan dy={5}>)</tspan></LegendRow>
        <LegendRow x={344} y={582} kind="diamond">Cu (x10<Sup>2</Sup><tspan dy={5}>)</tspan></LegendRow>
        <LegendRow x={344} y={599} kind="itri">Al (x10)</LegendRow>
        <LegendRow x={344} y={616} kind="ltri">C</LegendRow>
        <line x1={329} x2={348} y1={633} y2={633} stroke="#000" strokeWidth={1.6} />
        <text x={356} y={638} fontSize={14} fontFamily={FONT} fill="#000">CEM95 with pion transparency</text>
        <line x1={329} x2={348} y1={651} y2={651} stroke="#000" strokeWidth={1.6} strokeDasharray="5 3" />
        <text x={356} y={656} fontSize={14} fontFamily={FONT} fill="#000">CEM95</text>
      </svg>
    </div>
  );
}
